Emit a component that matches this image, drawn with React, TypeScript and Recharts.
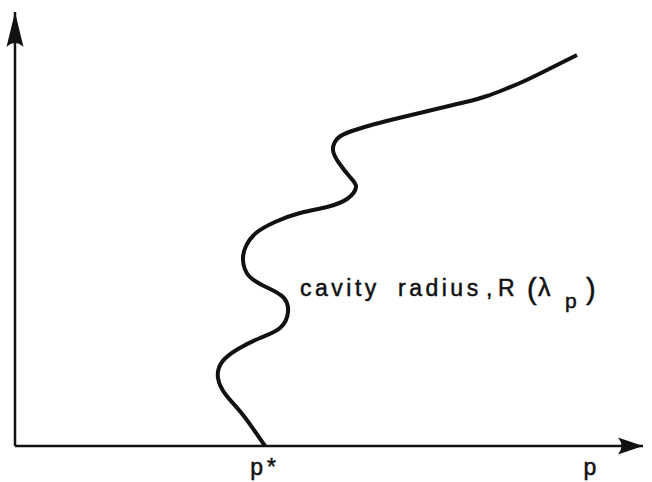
import React from "react";
import { LineChart, Line, XAxis, YAxis, ReferenceDot } from "recharts";

// curve (p along x, cavity radius along y)
const pValues = [250, 228, 211, 203, 207, 223, 245, 265, 273, 268, 251, 234, 228, 231, 241, 260, 285, 312, 332, 341, 335, 324, 318, 323, 337, 360, 388, 413, 438, 455, 472, 488, 505, 522, 538, 562];
const rValues = [0, 31, 51, 68, 84, 97, 108, 118, 134, 149, 159, 170, 186, 200, 213, 224, 233, 239, 247, 259, 269, 283, 296, 308, 315, 322, 329, 335, 341, 345, 350, 356, 363, 371, 379, 391];

const tickValues = [250, 577];
const tickLabels = ["p*", "p"];

const xMax = 628;
const yMax = 434;

const data = pValues.map((p, i) => ({ p, r: rValues[i] }));

const FONT = "'Liberation Sans', Arial, Helvetica, sans-serif";
const INK = "#111";

const XTick = ({ x, y, payload }: any) => {
  const idx = tickValues.indexOf(payload.value);
  return (
    <text x={x} y={y + 21} textAnchor="middle" fontFamily={FONT} fontSize={23} fill={INK} stroke={INK} strokeWidth={0.5} letterSpacing={4}>
      {tickLabels[idx]}
    </text>
  );
};

const ArrowRight = ({ cx, cy }: any) => (
  <path d={`M${cx},${cy} L${cx - 25},${cy - 8.5} Q${cx - 18},${cy} ${cx - 25},${cy + 8.5} Z`} fill={INK} />
);

const ArrowUp = ({ cx, cy }: any) => (
  <path d={`M${cx},${cy} L${cx - 8.5},${cy + 35} Q${cx},${cy + 27} ${cx + 8.5},${cy + 35} Z`} fill={INK} />
);

const CurveLabel = ({ cx, cy }: any) => (
  <g fontFamily={FONT} fill={INK} stroke={INK} strokeWidth={0.5}>
    <text x={cx} y={cy} fontSize={23} letterSpacing={3.5}>cavity</text>
    <text x={cx + 98} y={cy} fontSize={23} letterSpacing={3.5}>radius</text>
    <text x={cx + 186} y={cy} fontSize={23}>,</text>
    <text x={cx + 198} y={cy} fontSize={23}>R</text>
    <text x={cx + 227} y={cy + 3} fontSize={29}>(</text>
    <text x={cx + 238} y={cy} fontSize={25}>λ</text>
    <text x={cx + 265} y={cy + 12} fontSize={21}>p</text>
    <text x={cx + 286} y={cy + 3} fontSize={29}>)</text>
  </g>
);

export default function App() {
  return (
    <div style={{ position: "absolute", left: 0, top: 0, width: 652, height: 482, background: "#fff" }}>
      <LineChart width={652} height={482} data={data} margin={{ top: 12, right: 9, left: 0, bottom: 0 }}>
        <XAxis
          type="number"
          dataKey="p"
          domain={[0, xMax]}
          ticks={tickValues}
          tick={<XTick />}
          tickLine={false}
          axisLine={{ stroke: INK, strokeWidth: 2.5 }}
          height={36}
          allowDataOverflow
        />
        <YAxis
          type="number"
          dataKey="r"
          domain={[0, yMax]}
          width={15}
          tick={false}
          tickLine={false}
          axisLine={{ stroke: INK, strokeWidth: 2.5 }}
          allowDataOverflow
        />
        <Line
          type="natural"
          dataKey="r"
          stroke={INK}
          strokeWidth={4}
          dot={false}
          isAnimationActive={false}
        />
        <ReferenceDot x={xMax} y={0} r={0} shape={<ArrowRight />} ifOverflow="visible" />
        <ReferenceDot x={0} y={yMax} r={0} shape={<ArrowUp />} ifOverflow="visible" />
        <ReferenceDot x={285} y={150} r={0} shape={<CurveLabel />} ifOverflow="visible" />
      </LineChart>
    </div>
  );
}
